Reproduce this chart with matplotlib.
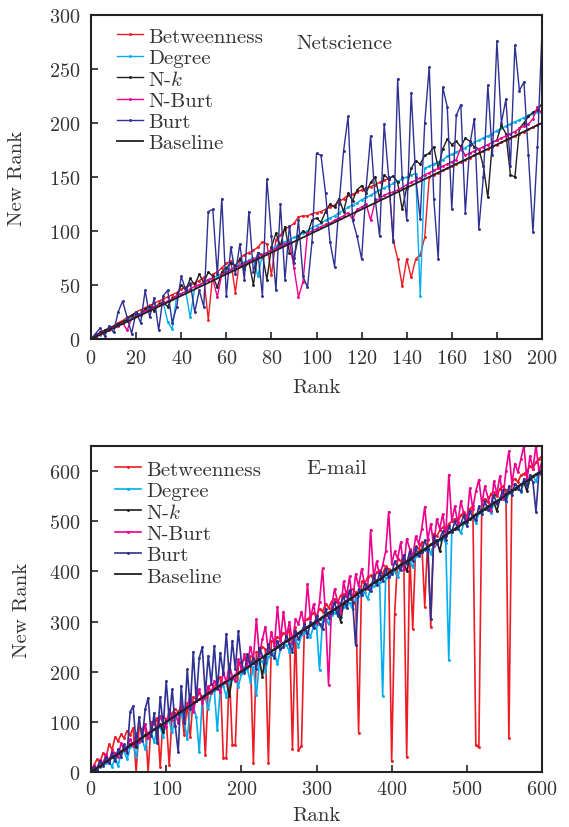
import matplotlib
matplotlib.use("Agg")
import matplotlib.pyplot as plt
import numpy as np

plt.rcParams['font.family'] = ['cmr10', 'DejaVu Serif']
plt.rcParams['mathtext.fontset'] = 'cm'
plt.rcParams['axes.formatter.use_mathtext'] = True

# colours
C_BET = '#ED1C24'
C_DEG = '#00AEEF'
C_NK = '#231F20'
C_NBURT = '#EC008C'
C_BURT = '#2E3192'
TXT = '#333333'

labels = ['Betweenness', 'Degree', 'N-$k$', 'N-Burt', 'Burt']
colors = [C_BET, C_DEG, C_NK, C_NBURT, C_BURT]

# ---------------- Netscience (rank step 2) ----------------
rank_top = np.arange(0, 201, 2)

betweenness_top = [0, 3, 6, 8, 10, 12, 15, 17, 20, 22,
                   25, 27, 29, 31, 33, 35, 37, 39, 41, 43,
                   46, 48, 50, 52, 54, 57, 18, 60, 62, 66,
                   70, 72, 43, 75, 78, 80, 82, 85, 90, 88,
                   59, 92, 96, 102, 104, 107, 113, 114, 114, 116,
                   117, 118, 120, 122, 124, 127, 130, 133, 134, 136,
                   138, 140, 141, 143, 145, 147, 148, 92, 74, 49,
                   74, 57, 74, 78, 94, 150, 152, 154, 156, 158,
                   160, 162, 164, 166, 168, 170, 172, 174, 176, 178,
                   180, 182, 184, 186, 188, 190, 192, 194, 196, 198,
                   200]

degree_top = [0, 2, 4, 6, 9, 11, 13, 15, 17, 20,
              22, 24, 26, 28, 30, 32, 34, 16, 9, 40,
              42, 44, 20, 48, 50, 53, 55, 57, 58, 61,
              63, 65, 67, 69, 71, 73, 75, 58, 78, 80,
              83, 86, 88, 90, 92, 94, 96, 98, 100, 103,
              105, 107, 110, 112, 114, 117, 119, 122, 124, 126,
              129, 131, 133, 136, 138, 140, 142, 144, 146, 148,
              150, 152, 153, 40, 158, 160, 162, 164, 166, 169,
              171, 173, 175, 177, 180, 182, 184, 186, 188, 190,
              193, 195, 197, 199, 201, 203, 205, 207, 208, 210,
              211]

nk_top = [0, 3, 6, 8, 10, 12, 14, 16, 18, 22,
          24, 22, 28, 30, 26, 32, 34, 30, 38, 40,
          50, 45, 56, 50, 60, 52, 62, 58, 48, 62,
          66, 70, 68, 74, 65, 72, 50, 80, 78, 55,
          85, 98, 86, 104, 80, 75, 95, 100, 97, 110,
          112, 108, 118, 125, 122, 130, 118, 135, 128, 138,
          142, 135, 145, 150, 130, 152, 148, 151, 145, 120,
          140, 158, 165, 162, 170, 172, 178, 158, 176, 185,
          180, 183, 178, 186, 183, 178, 176, 160, 131, 182,
          184, 198, 190, 152, 150, 195, 200, 206, 210, 212,
          218]

nburt_top = [0, 2, 5, 6, 8, 11, 12, 15, 8, 19,
             21, 23, 26, 27, 30, 31, 33, 35, 37, 40,
             42, 44, 46, 49, 50, 52, 55, 56, 39, 60,
             62, 64, 66, 68, 70, 72, 74, 76, 78, 80,
             82, 84, 86, 88, 90, 66, 39, 53, 98, 100,
             102, 104, 106, 107, 110, 112, 114, 117, 111, 120,
             122, 125, 110, 128, 130, 133, 135, 136, 138, 140,
             143, 145, 147, 149, 152, 154, 156, 158, 160, 162,
             164, 166, 177, 170, 172, 174, 176, 178, 180, 182,
             184, 186, 188, 190, 192, 195, 197, 199, 204, 215,
             208]

burt_top = [0, 5, 10, 3, 12, 6, 25, 35, 20, 5,
            25, 15, 45, 20, 38, 8, 40, 45, 15, 30,
            58, 45, 52, 25, 45, 30, 118, 120, 60, 130,
            40, 85, 60, 88, 55, 118, 62, 80, 40, 148,
            95, 45, 125, 55, 105, 70, 110, 58, 48, 90,
            172, 170, 135, 90, 67, 125, 174, 206, 110, 95,
            74, 140, 188, 130, 95, 199, 150, 90, 241, 150,
            110, 228, 150, 111, 200, 252, 130, 74, 233, 215,
            120, 207, 217, 117, 180, 204, 102, 150, 235, 170,
            276, 200, 222, 160, 272, 230, 238, 170, 99, 178,
            284]

# ---------------- E-mail (rank step 4) ----------------
rank_bot = np.arange(0, 601, 4)

betweenness_bot = [4, 14, 25, 20, 38, 30, 55, 45, 70, 62,
                   75, 68, 82, 74, 88, 0, 90, 84, 96, 0,
                   100, 95, 108, 10, 112, 105, 14, 118, 125, 120,
                   130, 73, 138, 70, 150, 145, 158, 150, 33, 168,
                   175, 168, 182, 190, 28, 28, 200, 54, 54, 215,
                   218, 225, 222, 232, 18, 240, 238, 250, 245, 18,
                   262, 258, 270, 265, 278, 272, 285, 46, 290, 43,
                   51, 300, 305, 310, 318, 312, 325, 320, 335, 328,
                   340, 345, 338, 352, 355, 348, 362, 365, 358, 78,
                   380, 375, 388, 392, 385, 398, 402, 395, 410, 405,
                   21, 316, 425, 420, 432, 30, 440, 286, 450, 445,
                   458, 330, 465, 290, 475, 470, 482, 488, 480, 495,
                   500, 505, 498, 512, 518, 510, 525, 530, 53, 49,
                   540, 545, 538, 555, 558, 550, 565, 570, 562, 67,
                   580, 585, 578, 592, 595, 600, 610, 605, 618, 625,
                   630]

degree_bot = [0, 3, 7, 10, 14, 17, 22, 10, 30, 12,
              38, 42, 25, 50, 55, 30, 62, 66, 45, 74,
              78, 60, 86, 90, 70, 98, 102, 80, 110, 114,
              118, 100, 66, 128, 132, 110, 40, 145, 148, 125,
              158, 162, 83, 170, 172, 150, 180, 185, 188, 170,
              196, 200, 205, 180, 210, 153, 218, 222, 200, 230,
              234, 238, 215, 246, 250, 254, 240, 262, 265, 250,
              274, 278, 282, 270, 290, 294, 203, 302, 305, 295,
              314, 318, 322, 310, 330, 334, 338, 325, 345, 350,
              354, 358, 345, 366, 370, 374, 378, 152, 386, 390,
              396, 400, 388, 410, 414, 418, 422, 408, 430, 434,
              438, 442, 447, 435, 455, 459, 463, 467, 456, 223,
              480, 484, 488, 476, 496, 500, 504, 508, 497, 516,
              520, 524, 528, 516, 537, 541, 545, 549, 538, 557,
              561, 565, 569, 558, 578, 582, 586, 590, 580, 600,
              605]

nk_bot = [0, 5, 9, 12, 17, 22, 25, 30, 33, 38,
          42, 45, 50, 55, 58, 50, 66, 70, 74, 78,
          82, 85, 90, 95, 80, 102, 105, 110, 113, 118,
          122, 125, 130, 134, 138, 142, 145, 150, 154, 158,
          162, 165, 170, 174, 178, 182, 152, 190, 194, 198,
          202, 205, 210, 214, 218, 222, 225, 190, 234, 238,
          242, 245, 250, 254, 258, 262, 265, 270, 274, 278,
          282, 285, 290, 294, 298, 302, 305, 310, 314, 318,
          322, 325, 330, 300, 338, 342, 345, 350, 354, 358,
          362, 365, 370, 374, 378, 382, 385, 390, 394, 398,
          402, 405, 410, 414, 418, 400, 425, 430, 434, 438,
          442, 445, 450, 454, 458, 462, 440, 470, 474, 478,
          482, 485, 490, 494, 498, 502, 505, 510, 514, 518,
          522, 525, 530, 534, 538, 520, 545, 550, 554, 558,
          562, 565, 570, 574, 578, 560, 585, 590, 594, 598,
          602]

nburt_bot = [3, 12, 8, 24, 18, 35, 22, 42, 38, 30,
             58, 44, 50, 66, 52, 78, 60, 72, 95, 68,
             88, 105, 82, 112, 96, 90, 125, 104, 118, 98,
             140, 122, 128, 155, 120, 148, 165, 138, 150, 172,
             158, 182, 170, 160, 200, 178, 215, 190, 182, 225,
             205, 235, 212, 250, 225, 305, 232, 265, 290, 240,
             280, 252, 330, 262, 320, 270, 300, 258, 305, 295,
             320, 290, 375, 305, 335, 298, 340, 406, 315, 174,
             330, 365, 340, 318, 380, 350, 390, 338, 395, 370,
             405, 375, 365, 483, 388, 420, 392, 412, 440, 519,
             415, 440, 425, 458, 405, 465, 445, 430, 470, 455,
             485, 529, 462, 495, 450, 505, 485, 515, 470, 593,
             500, 530, 495, 540, 515, 498, 566, 525, 560, 583,
             535, 570, 548, 520, 580, 555, 590, 545, 600, 640,
             575, 615, 598, 625, 651, 582, 630, 605, 651, 600,
             620]

burt_bot = [2, 10, 4, 22, 12, 30, 18, 38, 22, 45,
            30, 55, 38, 120, 131, 55, 110, 62, 125, 148,
            72, 118, 58, 150, 90, 181, 105, 165, 92, 40,
            172, 98, 205, 125, 240, 142, 228, 249, 155, 232,
            175, 252, 165, 238, 195, 276, 188, 262, 205, 281,
            220, 198, 235, 212, 228, 205, 248, 232, 218, 255,
            236, 228, 262, 245, 250, 272, 255, 240, 282, 265,
            278, 295, 270, 300, 288, 312, 295, 285, 325, 308,
            318, 340, 312, 335, 350, 328, 362, 340, 253, 365,
            352, 375, 368, 360, 392, 372, 398, 380, 405, 388,
            395, 420, 408, 402, 432, 415, 440, 420, 448, 430,
            438, 462, 445, 306, 470, 455, 465, 480, 462, 490,
            478, 500, 485, 495, 512, 490, 520, 508, 502, 530,
            515, 540, 522, 530, 552, 535, 545, 562, 540, 570,
            552, 575, 565, 560, 585, 570, 592, 578, 519, 598,
            590]

fig = plt.figure(figsize=(5.69, 8.28), dpi=100)
ax1 = fig.add_axes([0.16, 0.5894, 0.7925, 0.3913])
ax2 = fig.add_axes([0.16, 0.0664, 0.7925, 0.3937])


def draw(ax, rank, series, lw, ylim, xticks, yticks, name, name_pos,
         leg_anchor, ylabelpad, xpad, xlabelpad):
    for vals, lab, col in zip(series, labels, colors):
        ax.plot(rank, vals, color=col, lw=lw, marker='o', ms=1.1, label=lab)
    ax.plot(rank, rank, color=C_NK, lw=1.3, label='Baseline')
    ax.set_xlim(0, rank[-1])
    ax.set_ylim(*ylim)
    ax.set_xticks(xticks)
    ax.set_yticks(yticks)
    ax.tick_params(direction='in', length=5, width=1.2, labelsize=14.5,
                   colors='#222222', labelcolor=TXT, top=False, right=False)
    ax.tick_params(axis='y', pad=7.5)
    ax.tick_params(axis='x', pad=xpad)
    for s in ax.spines.values():
        s.set_linewidth(1.5)
        s.set_color('#222222')
    ax.set_xlabel('Rank', fontsize=15, color=TXT, labelpad=xlabelpad)
    ax.set_ylabel('New Rank', fontsize=15, color=TXT, labelpad=ylabelpad)
    ax.text(name_pos[0], name_pos[1], name, transform=ax.transAxes,
            fontsize=15, color=TXT, va='center', ha='left')
    leg = ax.legend(loc='upper left', bbox_to_anchor=leg_anchor, frameon=False,
                    fontsize=15, handlelength=1.25, handletextpad=0.25,
                    labelspacing=0.13, borderaxespad=0, borderpad=0)
    for t in leg.get_texts():
        t.set_color(TXT)


draw(ax1, rank_top, [betweenness_top, degree_top, nk_top, nburt_top, burt_top],
     1.0, (0, 300), range(0, 201, 20), range(0, 301, 50), 'Netscience', (0.455, 0.914),
     (0.058, 0.963), 17, 7.5, 8)
draw(ax2, rank_bot, [betweenness_bot, degree_bot, nk_bot, nburt_bot, burt_bot],
     1.2, (0, 650), range(0, 601, 100), range(0, 601, 100), 'E-mail', (0.477, 0.933),
     (0.053, 0.957), 13, 5.5, 6)

fig.savefig('out.png', dpi=100)
